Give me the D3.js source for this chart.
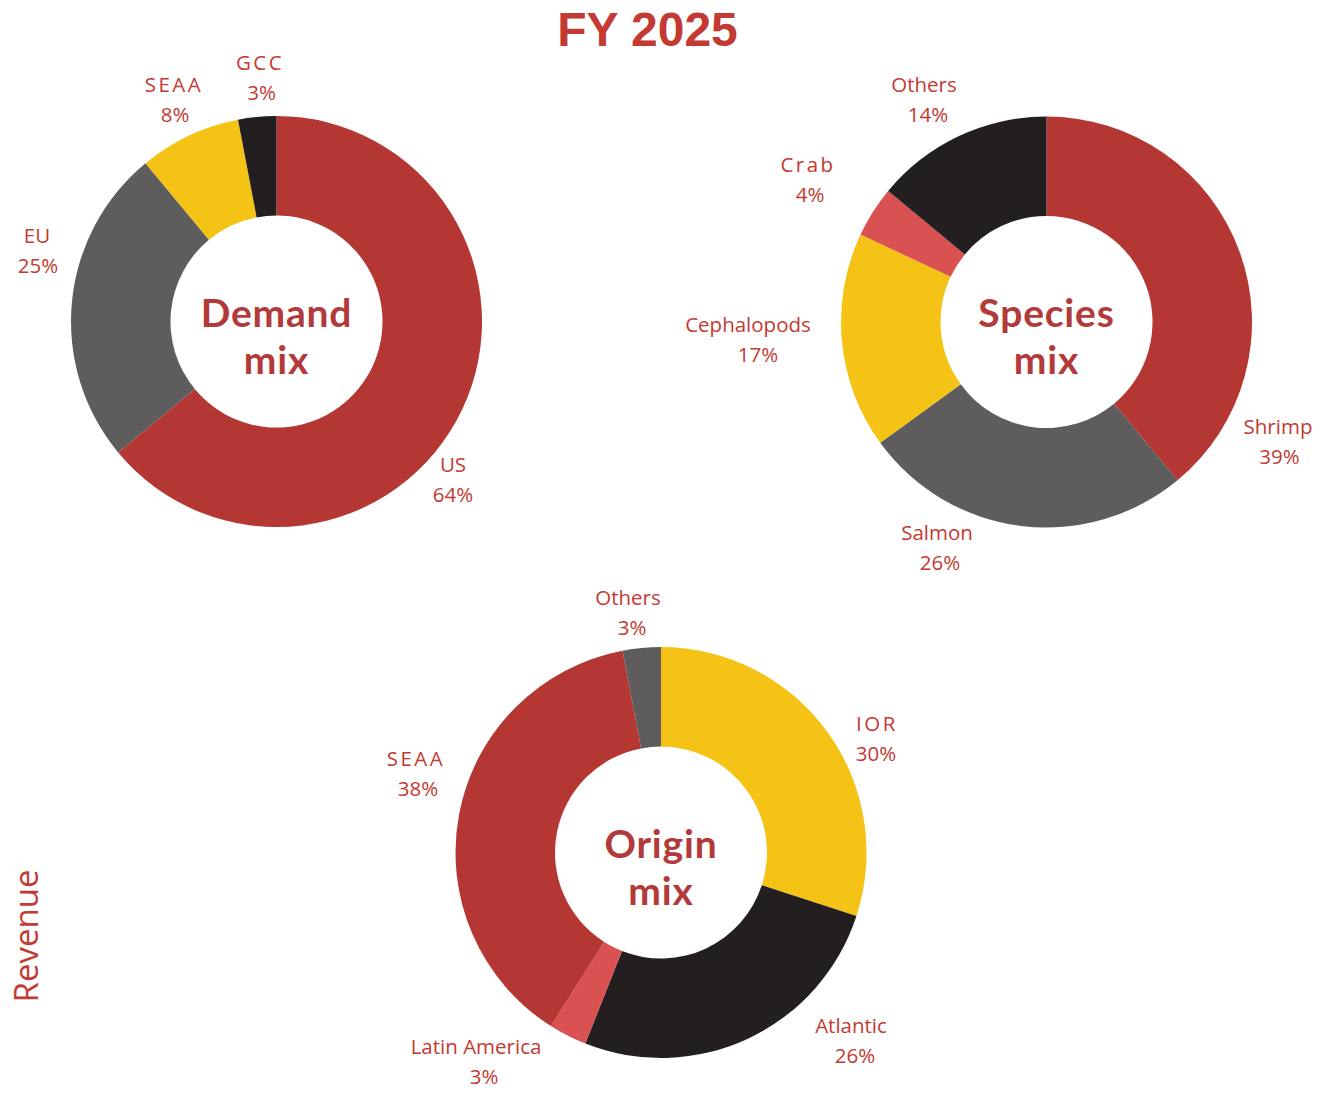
<!DOCTYPE html>
<html><head><meta charset="utf-8">
<script src="https://cdn.jsdelivr.net/npm/d3@7"></script>
<style>html,body{margin:0;padding:0;background:#fff}</style>
</head><body>
<svg id="chart" width="1332" height="1117"></svg>
<script>
// ---- data ----
const demandCategories = ["US", "EU", "SEAA", "GCC"];
const demandValues = [64, 25, 8, 3];
const speciesCategories = ["Shrimp", "Salmon", "Cephalopods", "Crab", "Others"];
const speciesValues = [39, 26, 17, 4, 14];
const originCategories = ["IOR", "Atlantic", "Latin America", "SEAA", "Others"];
const originValues = [30, 26, 3, 38, 3];
const titleText = "FY 2025";
const sideText = "Revenue";

// ---- styles / layout ----
const C = {red:"#b53733", gray:"#5e5c5d", yellow:"#f5c315", black:"#231f20", pink:"#d95151"};
const textColor = "#c23a32";
const centerColor = "#b23a3a";

const charts = [
  {cats: demandCategories, vals: demandValues, cx: 276.5, cy: 321.5, title: ["Demand","mix"],
   colors: [C.red, C.gray, C.yellow, C.black],
   spaced: [false,false,true,true],
   labelPos: [[176.5,142.5,0],[-239.5,-86.5,1],[-102.5,-237.5,1],[-16.5,-259.5,1.5]]},
  {cats: speciesCategories, vals: speciesValues, cx: 1046.5, cy: 322, title: ["Species","mix"],
   colors: [C.red, C.gray, C.yellow, C.pink, C.black],
   spaced: [false,false,false,true,false],
   labelPos: [[231.5,104,1.5],[-109.5,210,3],[-298.5,2,10],[-238.5,-158,2],[-122.5,-238,4]]},
  {cats: originCategories, vals: originValues, cx: 661, cy: 852.5, title: ["Origin","mix"],
   colors: [C.yellow, C.black, C.pink, C.red, C.gray],
   spaced: [true,false,false,true,false],
   labelPos: [[216,-129.5,-1],[190,172.5,4],[-185,193.5,8],[-245,-94.5,2],[-33,-255.5,4]]}
];

const svg = d3.select("#chart");
const innerR = 106, outerR = 205.5;
const arc = d3.arc().innerRadius(innerR).outerRadius(outerR);
const pie = d3.pie().sort(null).value(d => d);

charts.forEach(ch => {
  const g = svg.append("g").attr("transform", `translate(${ch.cx},${ch.cy})`);
  g.selectAll("path.slice").data(pie(ch.vals)).join("path")
    .attr("class","slice")
    .attr("d", arc)
    .attr("fill", (d,i) => ch.colors[i]);

  const lab = g.selectAll("g.lab").data(ch.cats).join("g").attr("class","lab");
  lab.append("text")
    .attr("x", (d,i) => ch.labelPos[i][0])
    .attr("y", (d,i) => ch.labelPos[i][1])
    .attr("text-anchor","middle").attr("dominant-baseline","central")
    .attr("font-family","'Open Sans', sans-serif").attr("font-size", 20.5)
    .attr("letter-spacing", (d,i) => ch.spaced[i] ? 2.5 : 0)
    .attr("fill", textColor)
    .text(d => d);
  lab.append("text")
    .attr("x", (d,i) => ch.labelPos[i][0] + ch.labelPos[i][2])
    .attr("y", (d,i) => ch.labelPos[i][1] + 30)
    .attr("text-anchor","middle").attr("dominant-baseline","central")
    .attr("font-family","'Open Sans', sans-serif").attr("font-size", 20.5)
    .attr("fill", textColor)
    .text((d,i) => ch.vals[i] + "%");

  const ct = g.append("text")
    .attr("text-anchor","middle")
    .attr("font-family","Lato, sans-serif").attr("font-weight", 700).attr("font-size", 39)
    .attr("letter-spacing", 0.8)
    .attr("fill", centerColor);
  ct.selectAll("tspan").data(ch.title).join("tspan")
    .attr("x", 0).attr("y", (d,i) => 5 + i*47)
    .text(d => d);
});

svg.append("text")
  .attr("x", 647.5).attr("y", 46)
  .attr("text-anchor","middle")
  .attr("font-family","'Liberation Sans', Arial, sans-serif").attr("font-weight", 700).attr("font-size", 48)
  .attr("fill", textColor)
  .text(titleText);

svg.append("text")
  .attr("transform","translate(38,936) rotate(-90)")
  .attr("text-anchor","middle")
  .attr("font-family","'Open Sans', sans-serif").attr("font-size", 33)
  .attr("fill", textColor)
  .text(sideText);
</script>
</body></html>
